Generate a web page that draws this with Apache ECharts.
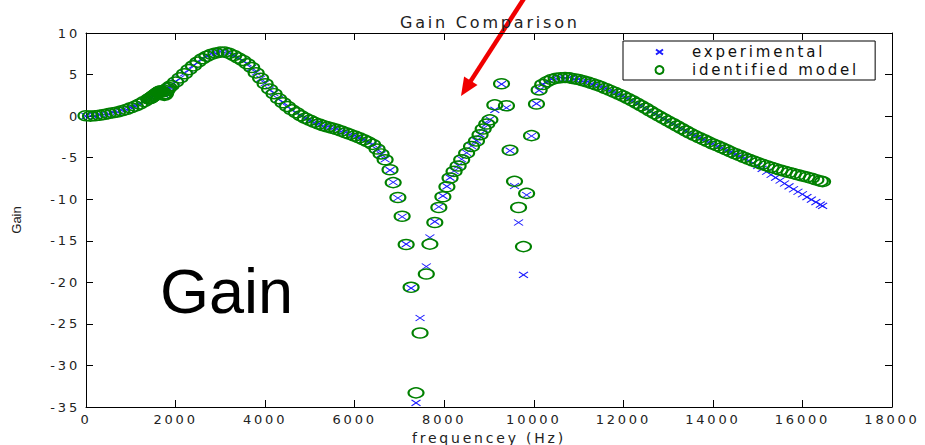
<!DOCTYPE html>
<html>
<head>
<meta charset="utf-8">
<script src="https://cdn.jsdelivr.net/npm/echarts@6/dist/echarts.min.js"></script>
<style>
  html, body { margin: 0; padding: 0; background: #fff; }
  #chart { width: 925px; height: 445px; }
  /* wide, spaced lettering of the plot text */
  #chart text { letter-spacing: 2.8px; }
</style>
</head>
<body>
<div id="chart"></div>
<script>
// Measured frequency points (Hz)
const freqHz = [
  0, 100, 200, 300, 400, 500, 600, 700, 800, 900, 1000, 1100, 1200, 1300, 1400,
  1425, 1450, 1475, 1500, 1525, 1550, 1575, 1600, 1625, 1650, 1675, 1700, 1725, 1750, 1775, 1800, 1825, 1850,
  1900, 2000, 2100, 2200, 2300, 2400, 2500, 2600, 2700, 2800, 2900, 3000, 3100, 3200, 3300, 3400, 3500,
  3600, 3700, 3800, 3900, 4000, 4100, 4200, 4300, 4400, 4500, 4600, 4700, 4800, 4900, 5000, 5100, 5200,
  5300, 5400, 5500, 5600, 5700, 5800, 5900, 6000, 6100, 6200, 6300, 6400, 6500,
  6590, 6680, 6790, 6860, 6965, 7060, 7150, 7260, 7370, 7460, 7600, 7680, 7790, 7880, 7970, 8060, 8130,
  8220, 8310, 8390, 8500, 8610, 8720, 8800, 8870, 8950, 9020, 9130, 9280, 9390, 9470, 9570, 9660, 9770,
  9840, 9950, 10060,
  10120, 10200, 10300, 10400, 10500, 10600, 10700, 10800, 10900, 11000, 11100, 11200, 11300, 11400, 11500,
  11600, 11700, 11800, 11900, 12000, 12100, 12200, 12300, 12400, 12500, 12600, 12700, 12800, 12900, 13000,
  13100, 13200, 13300, 13400, 13500, 13600, 13700, 13800, 13900, 14000, 14100, 14200, 14300, 14400, 14500,
  14600, 14700, 14800, 14900, 15000, 15100, 15200, 15300, 15400, 15500, 15600, 15700, 15800, 15900, 16000,
  16100, 16200, 16300, 16400, 16450
];

// Measured gain
const experimental = [
  0.0, 0.05, 0.0, 0.15, 0.2, 0.25, 0.45, 0.5, 0.7, 0.8, 1.05, 1.2, 1.5, 1.75, 2.1,
  2.15, 2.25, 2.3, 2.45, 2.5, 2.65, 2.7, 2.85, 2.95, 3.05, 3.1, 2.95, 2.65, 2.55, 2.75, 3.1, 3.35, 3.5,
  3.7, 4.15, 4.55, 5.15, 5.6, 6.1, 6.45, 6.95, 7.2, 7.5, 7.55, 7.75, 7.65, 7.6, 7.25, 7.05, 6.65,
  6.35, 5.8, 5.25, 4.5, 3.95, 3.2, 2.75, 2.05, 1.65, 1.1, 0.8, 0.35, 0.1, -0.3, -0.45, -0.8, -0.9,
  -1.2, -1.25, -1.5, -1.55, -1.85, -1.95, -2.25, -2.35, -2.65, -2.8, -3.15, -3.35, -4.0,
  -4.6, -5.2, -6.5, -7.95, -9.85, -12.1, -15.4, -20.7, -34.5, -24.3, -18.1, -14.6, -12.7, -10.9, -9.6, -8.45, -7.4,
  -6.6, -5.95, -5.2, -4.4, -3.6, -2.95, -2.2, -1.5, -0.9, -0.4, 0.75, 3.85, 1.0, -4.15, -8.4, -12.8, -19.1,
  -9.5, -2.4, 1.5,
  3.1, 3.85, 4.1, 4.45, 4.5, 4.65, 4.6, 4.65, 4.45, 4.45, 4.2, 4.15, 3.85, 3.8, 3.5,
  3.35, 3.05, 2.9, 2.6, 2.45, 2.05, 1.9, 1.5, 1.3, 0.9, 0.65, 0.25, 0.05, -0.35, -0.55,
  -0.95, -1.15, -1.55, -1.75, -2.15, -2.3, -2.65, -2.8, -3.15, -3.3, -3.65, -3.8, -4.15, -4.3, -4.6,
  -4.8, -5.05, -5.35, -5.65, -6.0, -6.35, -6.7, -7.05, -7.4, -7.75, -8.1, -8.45, -8.8, -9.1, -9.4,
  -9.75, -10.05, -10.35, -10.65, -10.8
];

// Gain of the identified model at the same frequencies
const identifiedModel = [
  0.05, 0.0, 0.05, 0.1, 0.2, 0.3, 0.4, 0.5, 0.65, 0.8, 1.0, 1.2, 1.45, 1.75, 2.05,
  2.1, 2.2, 2.3, 2.4, 2.5, 2.6, 2.7, 2.8, 2.9, 3.0, 3.05, 2.9, 2.6, 2.5, 2.7, 3.05, 3.3, 3.45,
  3.65, 4.1, 4.6, 5.1, 5.6, 6.05, 6.5, 6.9, 7.2, 7.45, 7.6, 7.7, 7.7, 7.55, 7.3, 7.0, 6.7,
  6.3, 5.85, 5.2, 4.55, 3.9, 3.25, 2.7, 2.1, 1.6, 1.15, 0.75, 0.4, 0.05, -0.25, -0.5, -0.75, -0.95,
  -1.15, -1.3, -1.45, -1.6, -1.8, -2.0, -2.2, -2.4, -2.6, -2.85, -3.1, -3.4, -3.95,
  -4.55, -5.25, -6.45, -8.0, -9.8, -12.05, -15.45, -20.6, -33.3, -26.1, -19.0, -15.4, -12.8, -11.0, -9.7, -8.5, -7.45,
  -6.65, -6.0, -5.25, -4.45, -3.65, -3.0, -2.25, -1.55, -0.95, -0.45, 1.35, 3.9, 1.25, -4.1, -7.85, -11.0, -15.7,
  -9.3, -2.35, 1.45,
  3.15, 3.8, 4.15, 4.4, 4.55, 4.62, 4.65, 4.6, 4.5, 4.4, 4.25, 4.1, 3.92, 3.75, 3.55,
  3.32, 3.1, 2.88, 2.64, 2.4, 2.12, 1.85, 1.55, 1.25, 0.95, 0.62, 0.3, 0.0, -0.3, -0.6,
  -0.9, -1.2, -1.5, -1.8, -2.08, -2.35, -2.6, -2.85, -3.1, -3.35, -3.57, -3.8, -4.05, -4.3, -4.52,
  -4.75, -4.98, -5.2, -5.4, -5.6, -5.8, -5.98, -6.15, -6.32, -6.48, -6.63, -6.78, -6.92, -7.06, -7.2,
  -7.34, -7.47, -7.65, -7.8, -7.88
];

const freqTicks = [0, 2000, 4000, 6000, 8000, 10000, 12000, 14000, 16000, 18000];
const gainTicks = [-35, -30, -25, -20, -15, -10, -5, 0, 5, 10];

const seriesNames = ['experimental', 'identified model'];
const titleText = 'Gain Comparison';
const xName = 'frequencey (Hz)';
const yName = 'Gain';
const noteText = 'Gain';

const UI_FONT = 'DejaVu Sans';
const crossSymbol = 'path://M0,0L10,10M10,0L0,10';
// smaller cross for the legend key, padded inside a 15x8 box
const legendCross = 'path://M0,0M4,1.5L11,6.5M11,1.5L4,6.5M15,8';

const chart = echarts.init(document.getElementById('chart'), null, { renderer: 'svg' });

const frame = {
  axisLine: { show: true, onZero: false, lineStyle: { color: '#000', width: 1 } },
  axisTick: { show: true, inside: true, length: 7, lineStyle: { color: '#000', width: 1 } },
  splitLine: { show: false }
};

const xRange = { type: 'value', min: freqTicks[0], max: freqTicks[freqTicks.length - 1], interval: freqTicks[1] - freqTicks[0] };
const yRange = { type: 'value', min: gainTicks[0], max: gainTicks[gainTicks.length - 1], interval: gainTicks[1] - gainTicks[0] };
const plainNumber = function (v) { return String(v); };

chart.setOption({
  animation: false,
  backgroundColor: '#fff',
  title: {
    text: titleText,
    left: 395,
    top: 9,
    textStyle: { fontFamily: UI_FONT, fontSize: 16, fontWeight: 'normal', color: '#222' }
  },
  grid: { left: 86, right: 33, top: 33, bottom: 38, containLabel: false, outerBoundsMode: 'none' },
  legend: {
    orient: 'vertical',
    left: 623,
    top: 41,
    padding: [2, 61, 1, 26.5],
    itemGap: 0,
    itemWidth: 15,
    itemHeight: 8,
    symbolKeepAspect: false,
    backgroundColor: '#fff',
    borderColor: '#000',
    borderWidth: 1,
    borderRadius: 0,
    textStyle: { fontFamily: UI_FONT, fontSize: 15, color: '#111', lineHeight: 18, padding: [0, 0, 0, 20] },
    data: [
      { name: seriesNames[0], icon: legendCross },
      { name: seriesNames[1] }
    ]
  },
  xAxis: [
    Object.assign({}, xRange, frame, {
      position: 'bottom',
      name: xName,
      nameLocation: 'middle',
      nameGap: 20,
      nameTextStyle: { fontFamily: UI_FONT, fontSize: 14, color: '#222' },
      axisLabel: { margin: 6, fontFamily: UI_FONT, fontSize: 13, color: '#222', formatter: plainNumber }
    }),
    Object.assign({}, xRange, frame, { position: 'top', axisLabel: { show: false } })
  ],
  yAxis: [
    Object.assign({}, yRange, frame, {
      position: 'left',
      name: yName,
      nameLocation: 'middle',
      nameGap: 63,
      nameRotate: 90,
      nameTextStyle: { fontFamily: 'Liberation Sans', fontSize: 13, color: '#222' },
      axisLabel: { margin: 6, fontFamily: UI_FONT, fontSize: 13, color: '#222', formatter: plainNumber }
    }),
    Object.assign({}, yRange, frame, { position: 'right', axisLabel: { show: false } })
  ],
  series: [
    {
      name: seriesNames[0],
      type: 'scatter',
      xAxisIndex: 0,
      yAxisIndex: 0,
      symbol: crossSymbol,
      symbolSize: [9, 6],
      itemStyle: { color: 'none', borderColor: '#1a1aff', borderWidth: 1, opacity: 1 },
      emphasis: { disabled: true },
      data: freqHz.map((f, i) => [f, experimental[i]])
    },
    {
      name: seriesNames[1],
      type: 'scatter',
      xAxisIndex: 0,
      yAxisIndex: 0,
      symbol: 'circle',
      symbolSize: [15, 10],
      itemStyle: { color: 'none', borderColor: '#008000', borderWidth: 1.8, opacity: 1 },
      emphasis: { disabled: true },
      data: freqHz.map((f, i) => [f, identifiedModel[i]])
    }
  ],
  graphic: [
    {
      type: 'text',
      left: 160,
      top: 259,
      style: { text: noteText, fontFamily: 'Liberation Sans', fontSize: 63, fill: '#000' }
    },
    {
      type: 'line',
      shape: { x1: 525.6, y1: -4, x2: 469.2, y2: 83.4 },
      style: { stroke: '#f00000', lineWidth: 4.5 }
    },
    {
      type: 'polygon',
      shape: { points: [[461, 96], [477.5, 85.1], [464.1, 76.5]] },
      style: { fill: '#f00000' }
    }
  ]
});

// plain lettering for the rotated axis name and the large note
function plainLettering() {
  document.querySelectorAll('#chart text').forEach(function (t) {
    if (t.textContent === 'Gain') t.style.setProperty('letter-spacing', '0px');
  });
}
plainLettering();
chart.on('finished', plainLettering);
</script>
</body>
</html>
